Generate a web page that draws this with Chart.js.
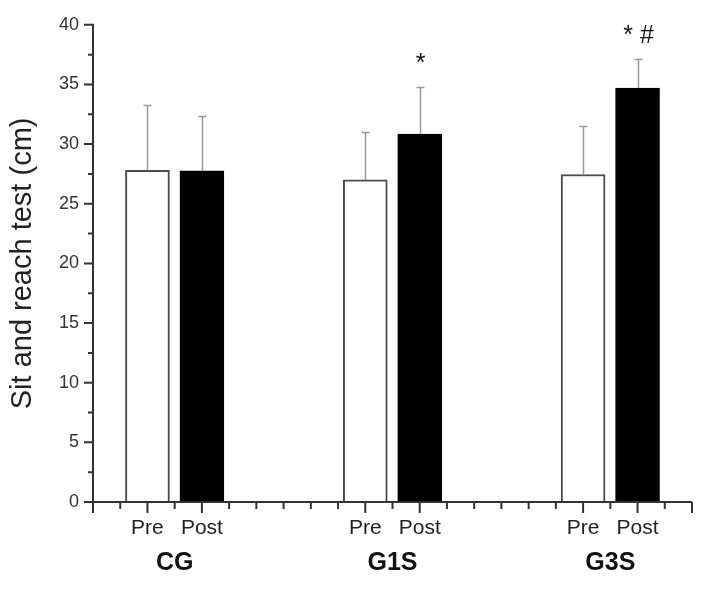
<!DOCTYPE html>
<html>
<head>
<meta charset="utf-8">
<script src="https://cdn.jsdelivr.net/npm/chart.js@4.4.1/dist/chart.umd.min.js"></script>
<style>
  html, body { margin: 0; padding: 0; background: #fff; }
  #wrap { width: 701px; height: 592px; }
</style>
</head>
<body>
<div id="wrap"><canvas id="sitReach"></canvas></div>
<script>
const groups = ["CG", "G1S", "G3S"];
const phases = ["Pre", "Post"];
const preMean = [27.8, 27.0, 27.45];
const preSD = [5.5, 4.0, 4.05];
const postMean = [27.75, 30.85, 34.7];
const postSD = [4.6, 3.9, 2.45];
const postMarks = ["", "*", "* #"];

// groups are 8 units apart, Pre one unit left of the centre, Post one unit right
const groupCentre = (i) => 3 + 8 * i;
const xPre = groups.map((g, i) => groupCentre(i) - 1);
const xPost = groups.map((g, i) => groupCentre(i) + 1);
const xLabels = {};
xPre.forEach((v) => (xLabels[v] = phases[0]));
xPost.forEach((v) => (xLabels[v] = phases[1]));

Chart.defaults.font.family = "'Liberation Sans', Arial, sans-serif";
Chart.defaults.animation = false;

// error bars, significance marks, axes with minor ticks, group names
const frame = {
  id: "frame",
  afterDatasetsDraw(chart) {
    const { ctx, chartArea: a, scales: { x, y } } = chart;
    ctx.save();

    chart.data.datasets.forEach((ds) => {
      ds.data.forEach((p, i) => {
        const px = Math.round(x.getPixelForValue(p.x)) + 0.5;
        const base = y.getPixelForValue(p.y);
        const top = Math.round(y.getPixelForValue(p.y + ds.err[i])) + 0.5;
        ctx.strokeStyle = "#9a9a9a";
        ctx.lineWidth = 1.5;
        ctx.beginPath();
        ctx.moveTo(px, base);
        ctx.lineTo(px, top);
        ctx.moveTo(px - 4, top);
        ctx.lineTo(px + 4, top);
        ctx.stroke();
        if (ds.marks && ds.marks[i]) {
          ctx.fillStyle = "#111";
          ctx.font = "25px 'Liberation Sans', Arial, sans-serif";
          ctx.textAlign = "center";
          ctx.textBaseline = "middle";
          ctx.fillText(ds.marks[i], px, top - 23);
        }
      });
    });

    ctx.strokeStyle = "#333";
    ctx.lineWidth = 2;
    ctx.beginPath();
    ctx.moveTo(a.left, a.top - 1);
    ctx.lineTo(a.left, a.bottom);
    ctx.moveTo(a.left - 9, a.bottom);
    ctx.lineTo(a.right, a.bottom);

    y.ticks.forEach((t, k) => {
      const py = y.getPixelForValue(t.value);
      ctx.moveTo(a.left - 9, py);
      ctx.lineTo(a.left, py);
      if (k < y.ticks.length - 1) {
        const my = y.getPixelForValue((t.value + y.ticks[k + 1].value) / 2);
        ctx.moveTo(a.left - 5, my);
        ctx.lineTo(a.left, my);
      }
    });

    x.ticks.forEach((t, k) => {
      const px = x.getPixelForValue(t.value);
      const long = xLabels[t.value] || k === 0 || k === x.ticks.length - 1;
      ctx.moveTo(px, a.bottom);
      ctx.lineTo(px, a.bottom + (long ? 11 : 7));
    });
    ctx.stroke();

    ctx.fillStyle = "#111";
    ctx.font = "bold 25px 'Liberation Sans', Arial, sans-serif";
    ctx.textAlign = "center";
    ctx.textBaseline = "middle";
    groups.forEach((g, i) => {
      ctx.fillText(g, x.getPixelForValue(groupCentre(i)), a.bottom + 61);
    });
    ctx.restore();
  },
};

const chart = new Chart(document.getElementById("sitReach"), {
  type: "bar",
  data: {
    datasets: [
      {
        label: phases[0],
        data: xPre.map((v, i) => ({ x: v, y: preMean[i] })),
        err: preSD,
        backgroundColor: "#fff",
        borderColor: "#4a4a4a",
        borderWidth: 2,
        grouped: false,
        barThickness: 44,
      },
      {
        label: phases[1],
        data: xPost.map((v, i) => ({ x: v, y: postMean[i] })),
        err: postSD,
        marks: postMarks,
        backgroundColor: "#000",
        borderColor: "#000",
        borderWidth: 1,
        grouped: false,
        barThickness: 44,
      },
    ],
  },
  options: {
    responsive: true,
    maintainAspectRatio: false,
    layout: { padding: { top: 21, right: 9, left: 0, bottom: 0 } },
    plugins: {
      legend: { display: false },
      tooltip: { enabled: false },
    },
    scales: {
      x: {
        type: "linear",
        offset: false,
        min: 0,
        max: 22,
        grid: { display: false, drawTicks: false, offset: false },
        border: { display: false },
        ticks: {
          stepSize: 1,
          autoSkip: false,
          maxRotation: 0,
          padding: 14,
          color: "#222",
          font: { size: 21 },
          callback: (v) => xLabels[v] || "",
        },
        afterFit: (s) => {
          s.height = 90;
          s.paddingLeft = 0;
          s.paddingRight = 0;
        },
      },
      y: {
        min: 0,
        max: 40,
        grid: { display: false, drawTicks: false },
        border: { display: false },
        ticks: {
          stepSize: 5,
          padding: 14,
          color: "#333",
          font: { size: 18 },
        },
        title: {
          display: true,
          text: "Sit and reach test (cm)",
          color: "#222",
          font: { size: 29 },
          padding: { top: 6, bottom: 0 },
        },
        afterFit: (s) => {
          s.width = 93;
        },
      },
    },
  },
  plugins: [frame],
});
</script>
</body>
</html>
